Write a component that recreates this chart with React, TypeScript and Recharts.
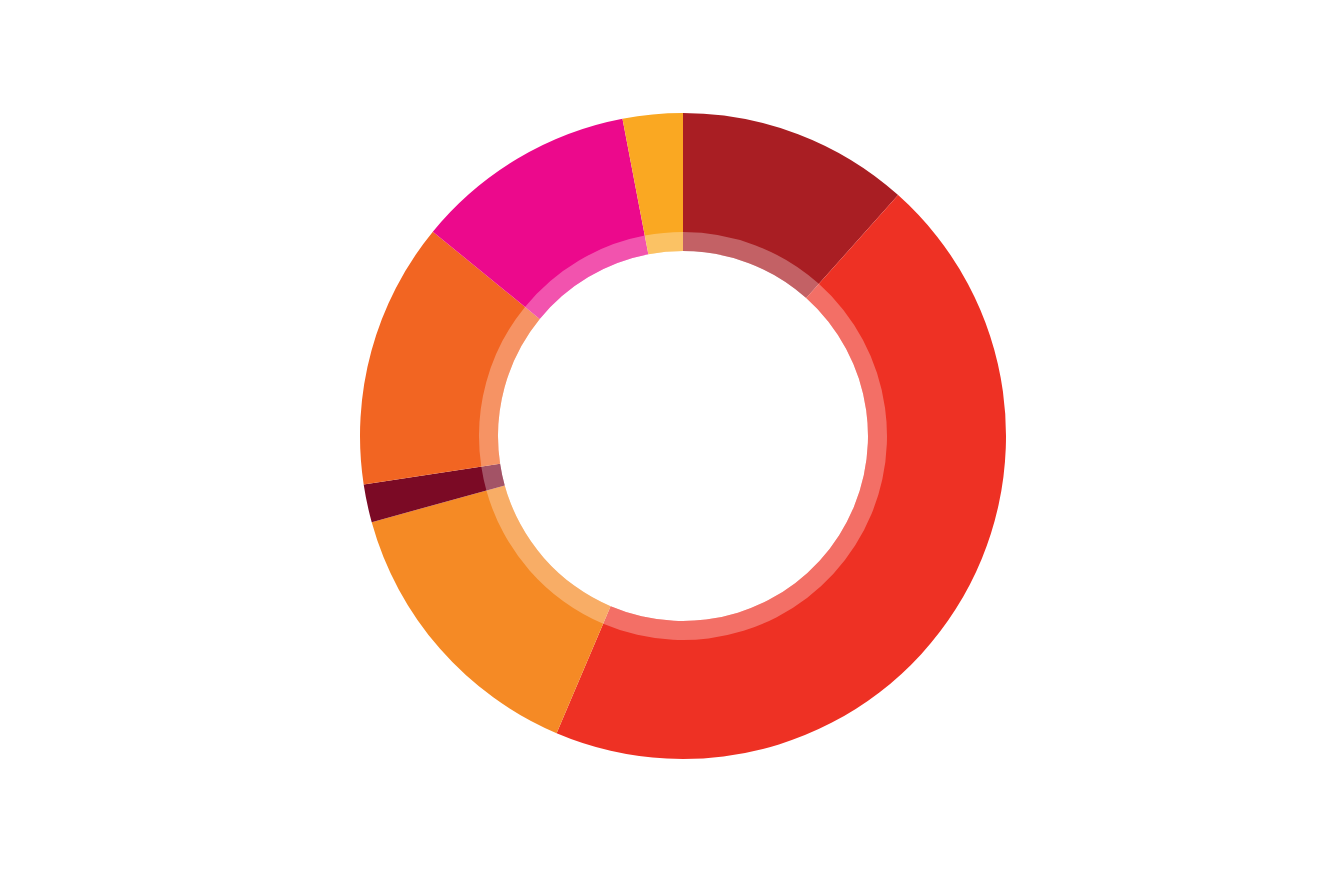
import { PieChart, Pie, Cell } from "recharts";

const segments = ["Dark red", "Red", "Orange", "Maroon", "Deep orange", "Magenta", "Amber"];
const shares = [11.6, 44.8, 14.3, 1.9, 13.3, 11.1, 3.0];
const colors = ["#A91E23", "#EE3124", "#F58A25", "#7B0A25", "#F26522", "#EC098C", "#FAA822"];

const data = segments.map((name, i) => ({ name, value: shares[i] }));

export default function App() {
  return (
    <div style={{ position: "absolute", left: 0, top: 0, width: 1340, height: 893, background: "#fff" }}>
      <PieChart width={1340} height={893} margin={{ top: 0, right: 0, bottom: 0, left: 0 }}>
        <Pie
          data={data}
          dataKey="value"
          cx={683}
          cy={436}
          innerRadius={185}
          outerRadius={323}
          startAngle={90}
          endAngle={-270}
          stroke="none"
          isAnimationActive={false}
        >
          {data.map((entry, i) => (
            <Cell key={`cell-${i}`} fill={colors[i]} />
          ))}
        </Pie>
        {/* lighter inner band */}
        <Pie
          data={data}
          dataKey="value"
          cx={683}
          cy={436}
          innerRadius={185}
          outerRadius={204}
          startAngle={90}
          endAngle={-270}
          stroke="none"
          fill="#ffffff"
          fillOpacity={0.3}
          isAnimationActive={false}
        />
      </PieChart>
    </div>
  );
}
